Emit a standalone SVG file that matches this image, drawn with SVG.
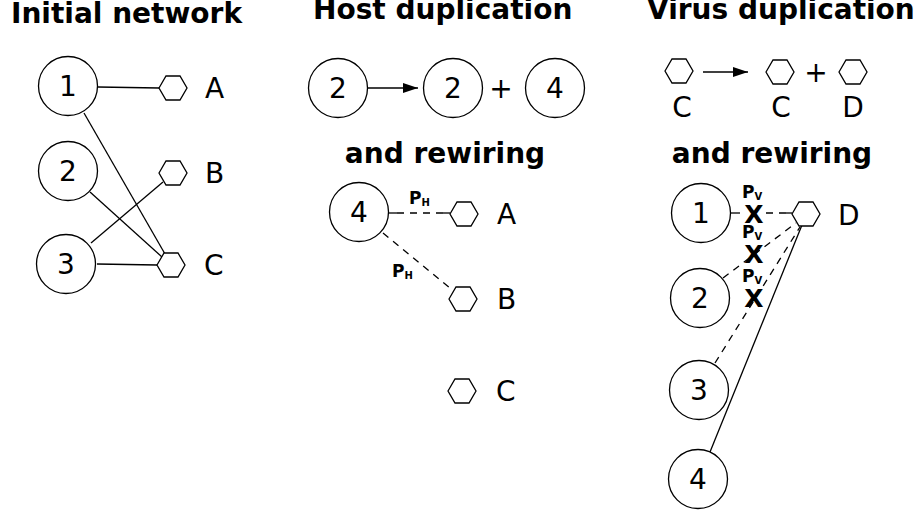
<svg xmlns="http://www.w3.org/2000/svg" width="924" height="514" viewBox="0 0 924 514">
<style>
.t{font-family:"DejaVu Sans","Verdana",sans-serif;font-weight:bold;font-size:28px;fill:#000}
.l{font-family:"DejaVu Sans","Verdana",sans-serif;font-size:28px;fill:#000}
.n{font-family:"DejaVu Sans","Verdana",sans-serif;font-size:28px;fill:#000;text-anchor:middle}
.p{font-family:"DejaVu Sans","Verdana",sans-serif;font-weight:bold;font-size:17px;fill:#000}
.s{font-size:10px}
.x{font-family:"DejaVu Sans","Verdana",sans-serif;font-weight:bold;font-size:25px;fill:#000;text-anchor:middle}
circle,path.h{fill:#fff;stroke:#000;stroke-width:1.3}
line{stroke:#000;stroke-width:1.3}
.d{stroke-dasharray:7,6}
</style>
<defs>
<path id="hex" class="h" d="M-14,0 L-7,-12 L7,-12 L14,0 L7,12 L-7,12 Z"/>
<marker id="arr" markerWidth="16" markerHeight="10" refX="15" refY="5" orient="auto" markerUnits="userSpaceOnUse">
<path d="M0,0 L15,5 L0,10 Z" fill="#000"/>
</marker>
</defs>

<text class="t" x="11" y="23">Initial network</text>
<text class="t" x="313" y="19">Host duplication</text>
<text class="t" x="647" y="19">Virus duplication</text>
<text class="t" x="445" y="163" text-anchor="middle">and rewiring</text>
<text class="t" x="772" y="163" text-anchor="middle">and rewiring</text>

<g id="connectors">
<line x1="98" y1="87" x2="159" y2="88"/>
<line x1="84" y1="113" x2="165" y2="254"/>
<line x1="90" y1="192" x2="162" y2="257"/>
<line x1="91" y1="243" x2="163" y2="182"/>
<line x1="97" y1="264" x2="157" y2="265"/>
<line x1="368" y1="88" x2="418" y2="88" marker-end="url(#arr)"/>
<line x1="389" y1="213" x2="397" y2="213"/>
<line x1="397" y1="213" x2="443" y2="213" class="d"/>
<line x1="443" y1="213" x2="450" y2="213"/>
<line x1="383" y1="233" x2="450" y2="288" class="d"/>
<line x1="703" y1="72" x2="748" y2="72" marker-end="url(#arr)"/>
<line x1="730" y1="213" x2="740" y2="213"/>
<line x1="766" y1="213" x2="786" y2="213" class="d"/>
<line x1="786" y1="213" x2="792" y2="213"/>
<line x1="723" y1="278" x2="796" y2="223" class="d"/>
<line x1="715" y1="363" x2="800" y2="227" class="d"/>
<line x1="710" y1="452" x2="802" y2="225"/>
</g>

<g id="init-1"><circle cx="68" cy="86" r="29.5"/><text class="n" x="68" y="96">1</text></g>
<g id="init-2"><circle cx="68" cy="171" r="29.5"/><text class="n" x="68" y="181">2</text></g>
<g id="init-3"><circle cx="66" cy="264" r="29.5"/><text class="n" x="66" y="274">3</text></g>
<g id="init-A"><use href="#hex" x="173" y="88"/><text class="l" x="205" y="98">A</text></g>
<g id="init-B"><use href="#hex" x="173" y="173"/><text class="l" x="205" y="183">B</text></g>
<g id="init-C"><use href="#hex" x="171" y="265"/><text class="l" x="204" y="275">C</text></g>

<g id="host-2a"><circle cx="338" cy="88" r="29.5"/><text class="n" x="338" y="98">2</text></g>
<g id="host-2b"><circle cx="453" cy="88" r="29.5"/><text class="n" x="453" y="98">2</text></g>
<text class="n" x="501" y="98">+</text>
<g id="host-4"><circle cx="555" cy="88" r="29.5"/><text class="n" x="555" y="98">4</text></g>

<g id="hr-4"><circle cx="359" cy="212" r="29.5"/><text class="n" x="359" y="222">4</text></g>
<g id="hr-A"><use href="#hex" x="464" y="214"/><text class="l" x="497" y="224">A</text></g>
<g id="hr-B"><use href="#hex" x="463" y="299"/><text class="l" x="497" y="309">B</text></g>
<g id="hr-C"><use href="#hex" x="462" y="391"/><text class="l" x="496" y="401">C</text></g>
<text class="p" x="409" y="204">P<tspan class="s" dy="2">H</tspan></text>
<text class="p" x="392" y="277">P<tspan class="s" dy="2">H</tspan></text>

<g id="vd-C"><use href="#hex" x="679" y="71"/><text class="n" x="682" y="117">C</text></g>
<g id="vd-C2"><use href="#hex" x="780" y="72"/><text class="n" x="781" y="117">C</text></g>
<text class="n" x="816" y="82">+</text>
<g id="vd-D"><use href="#hex" x="853" y="72"/><text class="n" x="853" y="117">D</text></g>

<g id="vr-1"><circle cx="701" cy="213" r="29.5"/><text class="n" x="701" y="223">1</text></g>
<g id="vr-2"><circle cx="700" cy="298" r="29.5"/><text class="n" x="700" y="308">2</text></g>
<g id="vr-3"><circle cx="699" cy="390" r="29.5"/><text class="n" x="699" y="400">3</text></g>
<g id="vr-4"><circle cx="698" cy="479" r="29.5"/><text class="n" x="698" y="489">4</text></g>
<g id="vr-D"><use href="#hex" x="806" y="214"/><text class="l" x="838" y="225">D</text></g>
<text class="p" x="742" y="198">P<tspan class="s" dy="2">V</tspan></text>
<text class="x" x="754" y="223">X</text>
<text class="p" x="742" y="238">P<tspan class="s" dy="2">V</tspan></text>
<text class="x" x="754" y="263">X</text>
<text class="p" x="742" y="282">P<tspan class="s" dy="2">V</tspan></text>
<text class="x" x="754" y="307">X</text>
</svg>
